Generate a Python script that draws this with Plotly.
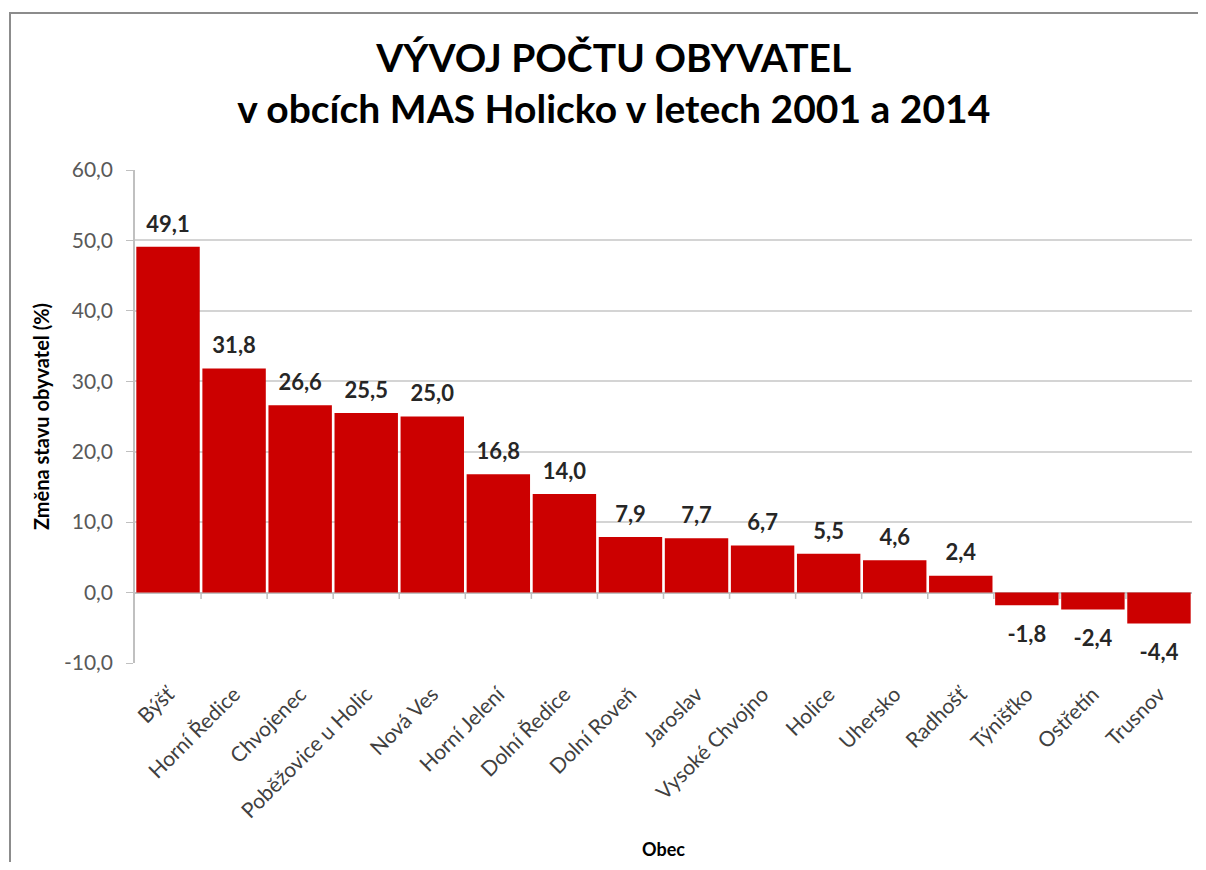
import plotly.graph_objects as go

categories = ["Býšť", "Horní Ředice", "Chvojenec", "Poběžovice u Holic", "Nová Ves",
              "Horní Jelení", "Dolní Ředice", "Dolní Roveň", "Jaroslav", "Vysoké Chvojno",
              "Holice", "Uhersko", "Radhošť", "Týnišťko", "Ostřetín", "Trusnov"]
values = [49.1, 31.8, 26.6, 25.5, 25.0, 16.8, 14.0, 7.9, 7.7, 6.7, 5.5, 4.6, 2.4, -1.8, -2.4, -4.4]
y_ticks = [-10, 0, 10, 20, 30, 40, 50, 60]

def cz(v):
    return f"{v:.1f}".replace(".", ",")

FONT = "Lato, Open Sans, sans-serif"
W, H = 1190, 854            # page body has an 8px margin
ml, mr, mt, mb = 127, 6, 162, 199
pw, ph = W - ml - mr, H - mt - mb

fig = go.Figure()
fig.add_trace(go.Bar(
    x=categories, y=values,
    marker=dict(color="#CC0000", line=dict(width=0)),
    width=0.96,
    hoverinfo="x+y",
))
# data labels (offset via invisible markers)
fig.add_trace(go.Scatter(
    x=categories, y=values,
    mode="markers+text",
    marker=dict(size=[14 if v >= 0 else 30 for v in values], color="rgba(0,0,0,0)",
                line=dict(width=0)),
    text=[f"<b>{cz(v)}</b>" for v in values],
    textposition=["top center" if v >= 0 else "bottom center" for v in values],
    textfont=dict(family=FONT, size=22, color="#262626"),
    cliponaxis=False,
    hoverinfo="skip",
))

shapes = []
for i in range(1, len(categories)):
    shapes.append(dict(type="line", xref="x", yref="y", x0=i - 0.5, x1=i - 0.5,
                       y0=0, y1=-0.9, line=dict(color="#bfbfbf", width=1.5)))
shapes.append(dict(type="rect", xref="paper", yref="paper",
                   x0=(2 - ml) / pw, x1=(W + 30 - ml) / pw,
                   y0=-(H + 30 - (H - mb)) / ph, y1=((H - mb) - 5) / ph,
                   line=dict(color="#8c8c8c", width=2), fillcolor="rgba(0,0,0,0)", layer="below"))

fig.update_layout(
    width=W, height=H,
    margin=dict(l=ml, r=mr, t=mt, b=mb, autoexpand=False),
    paper_bgcolor="white", plot_bgcolor="white",
    showlegend=False,
    bargap=0.04,
    title=dict(
        text="<b>VÝVOJ POČTU OBYVATEL<br>v obcích MAS Holicko v letech 2001 a 2014</b>",
        x=0.509, xref="container", xanchor="center",
        y=1 - 64 / H, yref="container", yanchor="middle",
        font=dict(family=FONT, size=39, color="#000000"),
    ),
    shapes=shapes,
    font=dict(family=FONT),
)

fig.update_yaxes(
    range=[-10, 60], automargin=False,
    tickvals=y_ticks, ticktext=[cz(v) for v in y_ticks],
    showgrid=True, gridcolor="#d4d4d4", gridwidth=1.5,
    zeroline=True, zerolinecolor="#c0c0c0", zerolinewidth=1.5,
    showline=True, linecolor="#c0c0c0", linewidth=1.5,
    ticks="outside", ticklen=7, tickcolor="#c0c0c0",
    ticklabelstandoff=9,
    tickfont=dict(family=FONT, size=21, color="#595959"),
    title=dict(text="<b>Změna stavu obyvatel (%)</b>", standoff=9,
               font=dict(family=FONT, size=20, color="#000000")),
)
fig.update_xaxes(
    range=[-0.5, len(categories) - 0.5],
    tickangle=-45, automargin=False,
    showgrid=False, showline=False, ticks="",
    ticklabelstandoff=14,
    tickfont=dict(family=FONT, size=21, color="#404040"),
    title=dict(text="<b>Obec</b>", standoff=22,
               font=dict(family=FONT, size=18, color="#000000")),
)

fig.write_html("out.html")
